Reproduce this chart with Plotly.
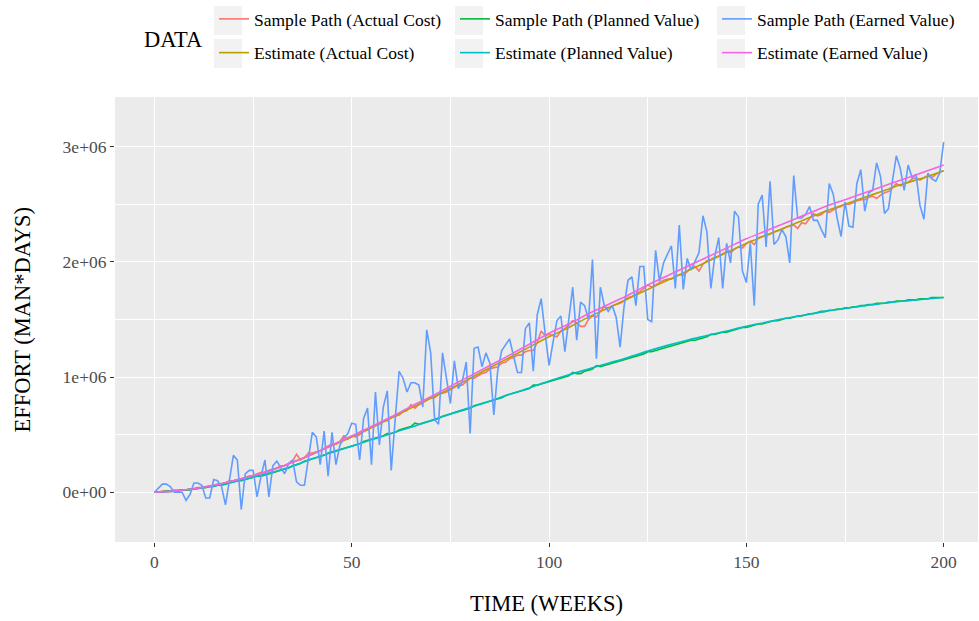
import plotly.graph_objects as go

# ---------------- data (values in millions of man*days) ----------------
weeks = list(range(0, 201))
est_weeks = list(range(0, 201, 5))

ac_path = [
    0.00, 0.00, 0.01, 0.01, 0.01, 0.02, 0.02, 0.02, 0.02, 0.03,
    0.03, 0.04, 0.04, 0.05, 0.05, 0.06, 0.07, 0.07, 0.08, 0.10,
    0.10, 0.11, 0.11, 0.13, 0.14, 0.14, 0.16, 0.17, 0.17, 0.19,
    0.20, 0.21, 0.23, 0.23, 0.25, 0.27, 0.33, 0.28, 0.30, 0.34,
    0.34, 0.35, 0.36, 0.38, 0.40, 0.42, 0.42, 0.44, 0.49, 0.46,
    0.49, 0.48, 0.50, 0.53, 0.54, 0.57, 0.58, 0.59, 0.62, 0.62,
    0.65, 0.66, 0.67, 0.70, 0.71, 0.76, 0.73, 0.76, 0.78, 0.80,
    0.82, 0.82, 0.85, 0.86, 0.87, 0.89, 0.91, 0.93, 0.93, 0.96,
    0.99, 0.99, 1.01, 1.03, 1.04, 1.07, 1.08, 1.09, 1.12, 1.13,
    1.16, 1.17, 1.19, 1.19, 1.22, 1.23, 1.23, 1.30, 1.40, 1.36,
    1.37, 1.36, 1.35, 1.40, 1.42, 1.45, 1.49, 1.47, 1.44, 1.44,
    1.50, 1.53, 1.52, 1.57, 1.61, 1.60, 1.62, 1.63, 1.64, 1.66,
    1.69, 1.70, 1.72, 1.74, 1.77, 1.80, 1.78, 1.80, 1.82, 1.84,
    1.85, 1.85, 1.87, 1.89, 1.88, 1.92, 1.95, 1.96, 1.92, 1.98,
    2.01, 2.02, 2.04, 2.05, 2.07, 2.09, 2.08, 2.11, 2.13, 2.12,
    2.16, 2.18, 2.15, 2.21, 2.22, 2.23, 2.24, 2.26, 2.27, 2.28,
    2.30, 2.31, 2.32, 2.29, 2.34, 2.33, 2.38, 2.42, 2.40, 2.41,
    2.44, 2.43, 2.45, 2.47, 2.48, 2.50, 2.50, 2.51, 2.53, 2.54,
    2.54, 2.56, 2.57, 2.55, 2.58, 2.60, 2.61, 2.64, 2.68, 2.66,
    2.68, 2.69, 2.72, 2.73, 2.71, 2.73, 2.75, 2.73, 2.76, 2.78, 2.79,
]

pv_path = [
    0.00, 0.00, 0.00, 0.01, 0.01, 0.01, 0.01, 0.02, 0.02, 0.02,
    0.03, 0.03, 0.04, 0.04, 0.05, 0.05, 0.06, 0.06, 0.07, 0.08,
    0.09, 0.10, 0.10, 0.11, 0.12, 0.13, 0.14, 0.14, 0.15, 0.16,
    0.17, 0.18, 0.19, 0.20, 0.21, 0.23, 0.24, 0.25, 0.27, 0.28,
    0.29, 0.30, 0.31, 0.32, 0.34, 0.35, 0.36, 0.37, 0.38, 0.39,
    0.40, 0.41, 0.42, 0.44, 0.45, 0.46, 0.47, 0.48, 0.49, 0.51,
    0.51, 0.52, 0.54, 0.55, 0.56, 0.57, 0.60, 0.59, 0.60, 0.61,
    0.62, 0.63, 0.64, 0.66, 0.67, 0.68, 0.69, 0.70, 0.71, 0.72,
    0.73, 0.75, 0.76, 0.77, 0.78, 0.79, 0.80, 0.81, 0.82, 0.84,
    0.85, 0.86, 0.87, 0.88, 0.89, 0.90, 0.93, 0.93, 0.94, 0.95,
    0.96, 0.97, 0.98, 0.99, 1.00, 1.01, 1.04, 1.03, 1.03, 1.05,
    1.06, 1.07, 1.10, 1.09, 1.10, 1.11, 1.12, 1.13, 1.14, 1.15,
    1.16, 1.17, 1.18, 1.19, 1.20, 1.22, 1.22, 1.23, 1.24, 1.25,
    1.26, 1.27, 1.28, 1.29, 1.30, 1.31, 1.32, 1.32, 1.33, 1.34,
    1.35, 1.37, 1.37, 1.38, 1.39, 1.39, 1.40, 1.41, 1.42, 1.43,
    1.43, 1.44, 1.45, 1.46, 1.46, 1.47, 1.48, 1.49, 1.49, 1.50,
    1.51, 1.51, 1.52, 1.53, 1.53, 1.54, 1.55, 1.55, 1.56, 1.57,
    1.57, 1.58, 1.58, 1.59, 1.59, 1.60, 1.60, 1.61, 1.61, 1.62,
    1.62, 1.63, 1.63, 1.64, 1.64, 1.64, 1.65, 1.65, 1.66, 1.66,
    1.66, 1.67, 1.67, 1.67, 1.68, 1.68, 1.68, 1.69, 1.69, 1.69, 1.69,
]

ev_path = [
    0.00, 0.04, 0.07, 0.07, 0.05, 0.00, 0.00, 0.00, -0.07, -0.02,
    0.08, 0.08, 0.06, -0.05, -0.05, 0.11, 0.10, 0.05, -0.11, 0.11,
    0.32, 0.28, -0.15, 0.16, 0.19, 0.19, -0.04, 0.14, 0.28, -0.04,
    0.23, 0.27, 0.22, 0.16, 0.25, 0.28, 0.09, 0.06, 0.06, 0.31,
    0.52, 0.48, 0.24, 0.53, 0.14, 0.52, 0.24, 0.41, 0.47, 0.51,
    0.60, 0.59, 0.28, 0.64, 0.73, 0.24, 0.87, 0.41, 0.74, 0.88,
    0.19, 0.63, 1.05, 0.99, 0.87, 0.95, 0.95, 0.93, 0.74, 1.41,
    1.21, 0.63, 0.59, 1.21, 0.99, 0.77, 1.14, 0.90, 0.96, 1.13,
    0.51, 1.25, 1.26, 1.09, 1.21, 1.12, 0.67, 1.06, 1.23, 1.28,
    1.33, 1.18, 1.04, 1.04, 1.42, 1.47, 1.05, 1.54, 1.68, 1.38,
    1.10, 1.30, 1.49, 1.53, 1.22, 1.50, 1.78, 1.32, 1.65, 1.62,
    1.50, 2.02, 1.16, 1.78, 1.62, 1.57, 1.62, 1.52, 1.26, 1.61,
    1.84, 1.87, 1.62, 1.96, 1.96, 1.50, 1.48, 2.10, 1.83, 1.99,
    2.06, 2.14, 1.77, 2.32, 1.76, 2.03, 1.93, 2.00, 2.08, 2.40,
    2.26, 1.77, 2.05, 2.21, 1.77, 2.16, 1.99, 2.44, 2.39, 1.92,
    1.82, 2.16, 1.62, 2.50, 2.58, 2.13, 2.70, 2.15, 2.19, 2.28,
    2.22, 1.99, 2.75, 2.38, 2.38, 2.41, 2.48, 2.36, 2.36, 2.28,
    2.21, 2.68, 2.59, 2.38, 2.22, 2.52, 2.31, 2.30, 2.68, 2.80,
    2.44, 2.60, 2.62, 2.86, 2.74, 2.42, 2.46, 2.70, 2.92, 2.81,
    2.62, 2.84, 2.73, 2.76, 2.49, 2.37, 2.77, 2.72, 2.70, 2.77, 3.04,
]

ac_est = [0.00, 0.01, 0.03, 0.06, 0.10, 0.145, 0.195, 0.26, 0.33, 0.405,
          0.48, 0.56, 0.645, 0.73, 0.815, 0.90, 0.99, 1.08, 1.17, 1.26,
          1.35, 1.43, 1.52, 1.60, 1.68, 1.76, 1.84, 1.92, 2.00, 2.08,
          2.16, 2.23, 2.30, 2.37, 2.44, 2.50, 2.56, 2.62, 2.68, 2.73, 2.79]
pv_est = [0.00, 0.01, 0.03, 0.055, 0.09, 0.13, 0.175, 0.225, 0.29, 0.345,
          0.40, 0.455, 0.51, 0.565, 0.62, 0.68, 0.735, 0.79, 0.85, 0.905,
          0.965, 1.02, 1.07, 1.12, 1.17, 1.225, 1.275, 1.32, 1.36, 1.40,
          1.44, 1.475, 1.51, 1.54, 1.57, 1.595, 1.62, 1.64, 1.66, 1.675, 1.69]
ev_est = [0.00, 0.01, 0.03, 0.06, 0.10, 0.145, 0.195, 0.26, 0.33, 0.41,
          0.49, 0.57, 0.655, 0.745, 0.83, 0.92, 1.01, 1.10, 1.19, 1.285,
          1.38, 1.46, 1.55, 1.63, 1.71, 1.80, 1.88, 1.96, 2.04, 2.12,
          2.20, 2.27, 2.34, 2.41, 2.48, 2.54, 2.60, 2.66, 2.72, 2.78, 2.84]

SCALE = 1e6
y_ticks = [0, 1e6, 2e6, 3e6]
y_tick_labels = ["0e+00", "1e+06", "2e+06", "3e+06"]
x_ticks = [0, 50, 100, 150, 200]

FONT = "Liberation Serif"

series = [
    # name, x, y, color, legend
    ("Sample Path (Actual Cost)", weeks, ac_path, "#F8766D", "legend"),
    ("Estimate (Actual Cost)", est_weeks, ac_est, "#B79F00", "legend"),
    ("Sample Path (Planned Value)", weeks, pv_path, "#00BA38", "legend2"),
    ("Estimate (Planned Value)", est_weeks, pv_est, "#00BFC4", "legend2"),
    ("Sample Path (Earned Value)", weeks, ev_path, "#619CFF", "legend3"),
    ("Estimate (Earned Value)", est_weeks, ev_est, "#F564E3", "legend3"),
]

fig = go.Figure()
for name, xs, ys, col, lg in series:
    is_est = name.startswith("Estimate")
    fig.add_trace(go.Scatter(
        x=xs, y=[v * SCALE for v in ys], mode="lines", name=name,
        line=dict(color=col, width=1.6, shape="spline" if is_est else "linear"),
        legend=lg, legendgroup=name, showlegend=True,
    ))

legend_common = dict(
    orientation="v", xref="container", yref="container",
    xanchor="left", yanchor="top", bgcolor="rgba(0,0,0,0)",
    font=dict(family=FONT, size=17.5, color="black"),
    traceorder="grouped", tracegroupgap=8, itemwidth=30,
)

PL, PR, PT, PB = 115, 978, 97, 542   # panel edges in pixels (for legend decoration)
PW, PH = PR - PL, PB - PT

# grey legend key boxes (ggplot style)
key_boxes = []
for kx in (214, 455, 717):
    for (ky0, ky1) in ((6, 35), (39, 68)):
        key_boxes.append(dict(
            type="rect", xref="paper", yref="paper", layer="below",
            x0=(kx - PL) / PW, x1=(kx + 28 - PL) / PW,
            y0=(PB - ky1) / PH, y1=(PB - ky0) / PH,
            fillcolor="#F2F2F2", line=dict(width=0),
        ))

fig.update_layout(
    width=979, height=621,
    margin=dict(l=PL, r=979 - PR, t=PT, b=621 - PB, autoexpand=False),
    paper_bgcolor="white", plot_bgcolor="#EBEBEB",
    font=dict(family=FONT, color="black"),
    shapes=key_boxes,
    legend=dict(x=214 / 979, y=1 - 1 / 621, **legend_common),
    legend2=dict(x=455 / 979, y=1 - 1 / 621, **legend_common),
    legend3=dict(x=717 / 979, y=1 - 1 / 621, **legend_common),
    annotations=[
        dict(text="DATA", xref="paper", yref="paper",
             x=(142 - PL) / PW, y=(PB - 40) / PH, xanchor="left", yanchor="middle",
             showarrow=False, font=dict(family=FONT, size=22.5, color="black")),
        dict(text="EFFORT (MAN*DAYS)", xref="paper", yref="paper",
             x=(22 - PL) / PW, y=0.5, xanchor="center", yanchor="middle",
             textangle=-90, showarrow=False,
             font=dict(family=FONT, size=22.5, color="black")),
    ],
    showlegend=True,
)

fig.update_xaxes(
    range=[-10, 208.7], tickvals=x_ticks, ticks="outside", ticklen=4,
    tickcolor="#333333", tickwidth=1,
    tickfont=dict(family=FONT, size=17.5, color="#4D4D4D"),
    showgrid=True, gridcolor="white", gridwidth=1.3, zeroline=False,
    showline=False,
    minor=dict(tickvals=[25, 75, 125, 175], showgrid=True,
               gridcolor="white", gridwidth=0.6, ticks=""),
    title=dict(text="TIME (WEEKS)", font=dict(family=FONT, size=22.5, color="black"),
               standoff=24),
    automargin=False,
)
fig.update_yaxes(
    range=[-0.432e6, 3.431e6], tickvals=y_ticks, ticktext=y_tick_labels,
    ticks="outside", ticklen=4, tickcolor="#333333", tickwidth=1,
    tickfont=dict(family=FONT, size=17.5, color="#4D4D4D"),
    showgrid=True, gridcolor="white", gridwidth=1.3, zeroline=False,
    showline=False,
    minor=dict(tickvals=[0.5e6, 1.5e6, 2.5e6], showgrid=True,
               gridcolor="white", gridwidth=0.6, ticks=""),
    automargin=False,
)

fig.write_html("out.html")
